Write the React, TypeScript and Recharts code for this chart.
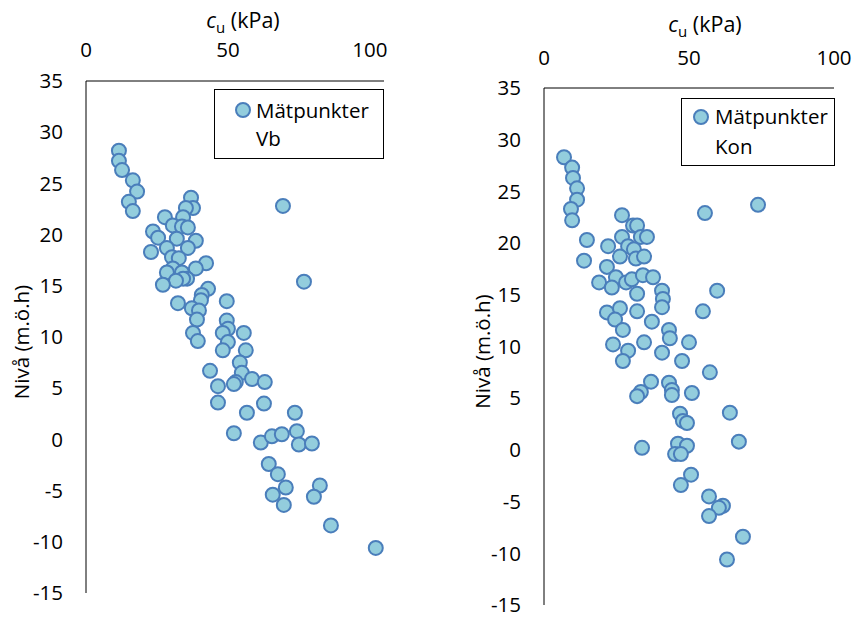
import React from "react";
import { ScatterChart, Scatter, XAxis, YAxis, Legend, Label } from "recharts";

// Vb (vingborr) – cu (kPa) and level (m.ö.h)
const vbCu = [
  11.6, 11.6, 12.7, 16.5, 18.0, 15.1, 16.5, 37.0, 37.7, 35.2,
  27.8, 34.2, 30.6, 33.8, 35.9, 23.6, 25.4, 32.0, 38.7, 28.5,
  22.9, 35.9, 30.3, 32.7, 42.3, 38.7, 30.6, 28.5, 33.8, 35.6,
  34.2, 31.7, 27.1, 43.0, 40.8, 40.5, 32.4, 49.6, 37.3, 39.8,
  49.6, 39.1, 50.0, 48.2, 55.6, 37.7, 39.4, 50.0, 48.2, 56.3,
  54.2, 54.9, 43.7, 52.8, 52.1, 58.5, 63.0, 46.5, 46.5, 56.7,
  62.7, 73.6, 52.1, 74.3, 61.6, 65.5, 69.0, 75.0, 79.6, 64.4,
  67.6, 70.4, 65.8, 69.7, 82.4, 80.3, 86.3, 102.1, 69.4, 76.8,
];
const vbLevel = [
  28.2, 27.2, 26.3, 25.3, 24.2, 23.2, 22.3, 23.6, 22.6, 22.6,
  21.7, 21.7, 20.9, 20.8, 20.7, 20.3, 19.7, 19.6, 19.4, 18.7,
  18.3, 18.7, 17.8, 17.7, 17.2, 16.7, 16.7, 16.3, 16.3, 15.7,
  15.7, 15.5, 15.1, 14.7, 14.1, 13.6, 13.3, 13.5, 12.8, 12.6,
  11.6, 11.7, 10.8, 10.4, 10.4, 10.4, 9.6, 9.5, 8.7, 8.7,
  7.5, 6.5, 6.7, 5.6, 5.4, 5.9, 5.6, 5.2, 3.6, 2.6,
  3.5, 2.6, 0.6, 0.8, -0.3, 0.3, 0.5, -0.5, -0.4, -2.4,
  -3.4, -4.7, -5.4, -6.4, -4.5, -5.6, -8.4, -10.6, 22.8, 15.4,
];

// Kon (fallkon)
const konCu = [
  6.9, 9.7, 10.0, 11.4, 11.4, 9.3, 9.7, 26.9, 55.5, 73.8,
  14.8, 22.1, 13.8, 30.7, 32.1, 26.9, 33.4, 35.5, 29.0, 31.0,
  26.2, 31.7, 34.5, 21.7, 24.8, 19.0, 23.4, 28.3, 30.3, 34.1,
  37.6, 32.1, 40.7, 41.0, 40.7, 59.7, 54.8, 21.7, 26.2, 24.5,
  32.1, 37.2, 27.2, 43.1, 43.4, 23.8, 34.5, 29.0, 27.2, 40.7,
  47.6, 50.0, 36.9, 33.4, 32.1, 43.1, 44.1, 44.1, 51.0, 57.2,
  46.9, 47.9, 49.3, 64.1, 67.2, 33.8, 46.2, 49.3, 45.2, 47.2,
  50.7, 47.2, 56.9, 61.7, 60.3, 56.9, 68.6, 63.1,
];
const konLevel = [
  28.3, 27.3, 26.3, 25.3, 24.2, 23.3, 22.2, 22.7, 22.9, 23.7,
  20.3, 19.7, 18.3, 21.7, 21.7, 20.6, 20.6, 20.6, 19.7, 19.4,
  18.7, 18.5, 18.7, 17.7, 16.7, 16.2, 15.7, 16.2, 16.5, 16.9,
  16.7, 15.1, 15.4, 14.6, 13.8, 15.4, 13.4, 13.3, 13.7, 12.6,
  13.4, 12.4, 11.6, 11.6, 10.8, 10.2, 10.4, 9.6, 8.6, 9.4,
  8.6, 10.4, 6.6, 5.6, 5.2, 6.5, 5.8, 5.3, 5.5, 7.5,
  3.5, 2.8, 2.6, 3.6, 0.8, 0.2, 0.6, 0.4, -0.4, -0.4,
  -2.4, -3.4, -4.5, -5.4, -5.6, -6.4, -8.4, -10.6,
];

const cuTicks = [0, 50, 100];
const levelTicks = [-15, -10, -5, 0, 5, 10, 15, 20, 25, 30, 35];

const FONT = "'Open Sans', 'Noto Sans', sans-serif";
const FILL = "#93CDDD";
const STROKE = "#4A7EBB";
const H = 617;
const YW = 50;
const XH = 40;

const toPoints = (cu: number[], lvl: number[]) => cu.map((c, i) => ({ cu: c, level: lvl[i] }));

function Dot(props: any) {
  const { cx, cy } = props;
  return <circle cx={cx} cy={cy} r={7} fill={FILL} stroke={STROKE} strokeWidth={2} />;
}

function LegendBox({ w, h, mx, my, tx, ty1, ty2, line2 }: any) {
  return (
    <svg width={w} height={h} style={{ display: "block" }}>
      <rect x={0.5} y={0.5} width={w - 1} height={h - 1} fill="#fff" stroke="#000" />
      <circle cx={mx} cy={my} r={7} fill={FILL} stroke={STROKE} strokeWidth={2} />
      <text x={tx} y={ty1} fontSize={20.5} fontFamily={FONT} fill="#000">Mätpunkter</text>
      <text x={tx} y={ty2} fontSize={20.5} fontFamily={FONT} fill="#000">{line2}</text>
    </svg>
  );
}

function Panel({ cfg }: any) {
  const { left, width, plot, xMax, data, name, title, yLabel, legend } = cfg;
  const margin = {
    top: plot.top - XH,
    left: plot.left - YW,
    right: width - plot.right,
    bottom: H - plot.bottom,
  };
  const tick = { fill: "#000", fontSize: 20.5, fontFamily: FONT };

  const renderTitle = ({ viewBox }: any) => (
    <text x={viewBox.x + viewBox.width / 2 + title.dx} y={title.y} textAnchor="middle" fontSize={21.5} fontFamily={FONT} fill="#000">
      <tspan fontStyle="italic">c</tspan>
      <tspan fontSize={15} dy={5}>u</tspan>
      <tspan dy={-5}> (kPa)</tspan>
    </text>
  );

  const renderYLabel = ({ viewBox }: any) => {
    const cy = viewBox.y + viewBox.height / 2 + yLabel.dy;
    return (
      <text x={yLabel.x} y={cy} transform={`rotate(-90 ${yLabel.x} ${cy})`} textAnchor="middle" dominantBaseline="central" fontSize={20.5} fontFamily={FONT} fill="#000">
        Nivå (m.ö.h)
      </text>
    );
  };

  return (
    <div style={{ position: "absolute", left, top: 0 }}>
      <ScatterChart width={width} height={H} margin={margin}>
        <XAxis
          xAxisId="cu" orientation="top" type="number" dataKey="cu" height={XH}
          domain={[0, xMax]} ticks={cuTicks} interval={0} allowDataOverflow
          tickLine={false} tickSize={0} tickMargin={title.tickGap}
          axisLine={{ stroke: "#000" }} tick={tick}
        >
          <Label content={renderTitle} />
        </XAxis>
        <YAxis
          yAxisId="lvl" type="number" dataKey="level" width={YW}
          domain={[-15, 35]} ticks={levelTicks} interval={0} allowDataOverflow
          tickLine={false} tickSize={0} tickMargin={23}
          axisLine={{ stroke: "#000" }} tick={tick}
        >
          <Label content={renderYLabel} />
        </YAxis>
        <Legend
          layout="vertical" align="center" verticalAlign="middle"
          wrapperStyle={{ left: legend.x, top: legend.y, width: legend.w, height: legend.h }}
          content={() => <LegendBox {...legend} />}
        />
        <Scatter xAxisId="cu" yAxisId="lvl" name={name} data={data} shape={Dot} isAnimationActive={false} />
      </ScatterChart>
    </div>
  );
}

const vbPanel = {
  left: 0,
  width: 432,
  plot: { left: 86, right: 384, top: 81, bottom: 593 },
  xMax: 105,
  data: toPoints(vbCu, vbLevel),
  name: "Mätpunkter Vb",
  title: { dx: 8, y: 28, tickGap: 24 },
  yLabel: { x: 21, dy: 5 },
  legend: { x: 214, y: 89, w: 170, h: 70, mx: 29, my: 21, tx: 42, ty1: 29, ty2: 57, line2: "Vb" },
};

const konPanel = {
  left: 432,
  width: 432,
  plot: { left: 112, right: 402, top: 88, bottom: 605 },
  xMax: 100,
  data: toPoints(konCu, konLevel),
  name: "Mätpunkter Kon",
  title: { dx: 16, y: 32, tickGap: 23 },
  yLabel: { x: 50, dy: 5 },
  legend: { x: 249, y: 98, w: 154, h: 68, mx: 20, my: 19, tx: 34, ty1: 26, ty2: 56, line2: "Kon" },
};

export default function App() {
  return (
    <div style={{ position: "absolute", left: 0, top: 0, width: 864, height: H, background: "#fff" }}>
      <Panel cfg={vbPanel} />
      <Panel cfg={konPanel} />
    </div>
  );
}
